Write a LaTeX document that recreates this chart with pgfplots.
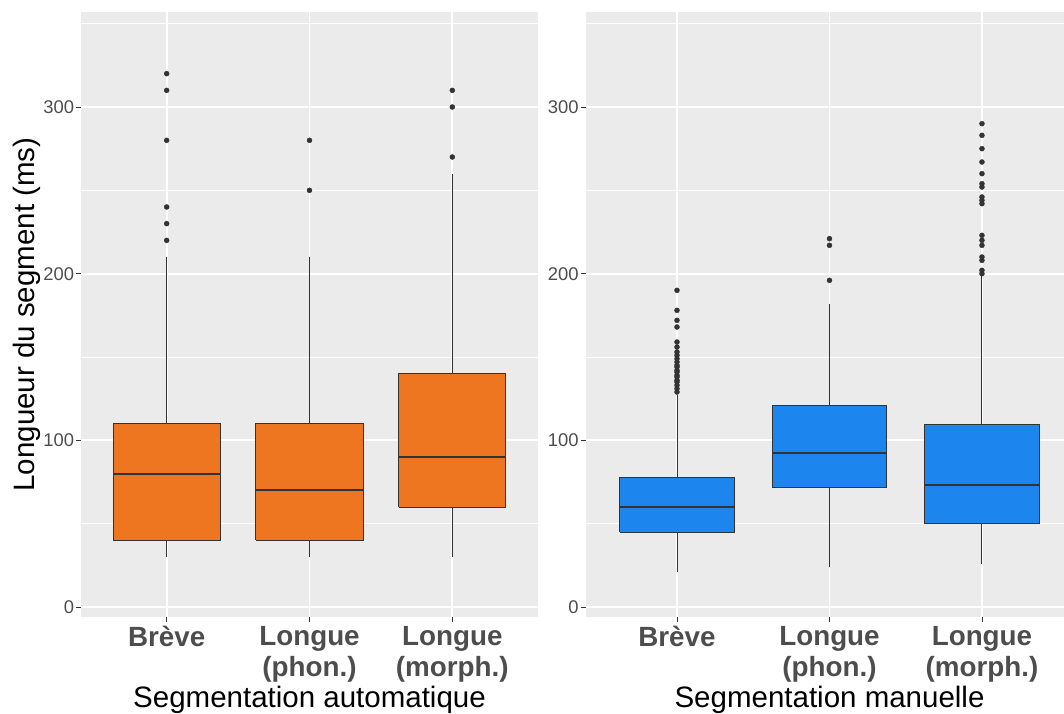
\documentclass[border=0pt]{standalone}
\usepackage{fontspec}
\setmainfont{Liberation Sans}
\usepackage{pgfplots}
\pgfplotsset{compat=1.18}

\definecolor{panelbg}{HTML}{EBEBEB}
\definecolor{ticktext}{HTML}{4D4D4D}
\definecolor{outline}{HTML}{333333}
\definecolor{autofill}{HTML}{EE7621}
\definecolor{manfill}{HTML}{1C86EE}

\pgfplotsset{
  panel/.style={
    scale only axis,
    height=302.5pt,
    xmin=0.4, ymin=-6, ymax=357,
    axis background/.style={fill=panelbg},
    axis line style={draw=none},
    xtick={1,2,3},
    xticklabels={Brève,{Longue\\(phon.)},{Longue\\(morph.)}},
    ytick={0,100,200,300},
    minor ytick={50,150,250,350},
    grid=both,
    major grid style={white, line width=0.9pt},
    minor grid style={white, line width=0.45pt},
    tick pos=left, tick align=outside,
    major tick length=2.5pt,
    tick style={outline, line width=0.45pt},
    minor tick style={draw=none},
    /pgf/number format/assume math mode=true,
    yticklabel style={font=\fontsize{9.2}{9.2}\selectfont, text=ticktext, inner sep=0.75pt},
    xticklabel style={font=\fontsize{13.9}{15.5}\selectfont\bfseries, text=ticktext,
      align=center, inner sep=0pt, yshift=-2pt},
    every axis x label/.style={at={(axis description cs:0.5,0)}, anchor=base,
      yshift=-45pt, font=\fontsize{14.75}{15}\selectfont},
    every axis y label/.style={at={(axis description cs:0,0.5)}, xshift=-23pt,
      rotate=90, anchor=base, font=\fontsize{14.75}{15}\selectfont},
  },
  whisk/.style={outline, line width=0.5pt},
  box/.style={fill=#1, draw=outline, line width=0.5pt, line join=miter},
  med/.style={outline, line width=1.1pt},
  outl/.style={only marks, mark=*, mark size=1.25pt,
    mark options={fill=outline, draw=outline, line width=0.2pt}},
}

\begin{document}
\begin{tikzpicture}
\useasboundingbox (0,0) rectangle (532pt,356.5pt);

% Automatic segmentation
\begin{axis}[panel, at={(40.5pt,48pt)}, anchor=south west,
  width=228.5pt, xmax=3.6,
  xlabel={Segmentation automatique},
  ylabel={Longueur du segment (ms)}]
% Brève: whiskers 30--210, box 40--110, median 80
\addplot[whisk] coordinates {(1,30) (1,40)};
\addplot[whisk] coordinates {(1,110) (1,210)};
\addplot[box=autofill] coordinates {(0.625,40) (1.375,40) (1.375,110) (0.625,110) (0.625,40)};
\addplot[med] coordinates {(0.625,80) (1.375,80)};
\addplot[outl] coordinates {(1,220) (1,230) (1,240) (1,280) (1,310) (1,320)};
% Longue (phon.): whiskers 30--210, box 40--110, median 70
\addplot[whisk] coordinates {(2,30) (2,40)};
\addplot[whisk] coordinates {(2,110) (2,210)};
\addplot[box=autofill] coordinates {(1.625,40) (2.375,40) (2.375,110) (1.625,110) (1.625,40)};
\addplot[med] coordinates {(1.625,70) (2.375,70)};
\addplot[outl] coordinates {(2,250) (2,280)};
% Longue (morph.): whiskers 30--260, box 60--140, median 90
\addplot[whisk] coordinates {(3,30) (3,60)};
\addplot[whisk] coordinates {(3,140) (3,260)};
\addplot[box=autofill] coordinates {(2.625,60) (3.375,60) (3.375,140) (2.625,140) (2.625,60)};
\addplot[med] coordinates {(2.625,90) (3.375,90)};
\addplot[outl] coordinates {(3,270) (3,300) (3,310)};
\end{axis}

% Manual segmentation
\begin{axis}[panel, at={(292.75pt,48pt)}, anchor=south west,
  width=239.25pt, xmax=3.538,
  xlabel={Segmentation manuelle},
  every axis x label/.append style={at={(axis description cs:0.51,0)}}]
% Brève: whiskers 21--127, box 45--78, median 60
\addplot[whisk] coordinates {(1,21) (1,45)};
\addplot[whisk] coordinates {(1,78) (1,127)};
\addplot[box=manfill] coordinates {(0.625,45) (1.375,45) (1.375,78) (0.625,78) (0.625,45)};
\addplot[med] coordinates {(0.625,60) (1.375,60)};
\addplot[outl] coordinates {(1,129) (1,131) (1,133) (1,135) (1,136) (1,138) (1,139)
  (1,141) (1,142) (1,144) (1,145) (1,147) (1,149) (1,151) (1,153) (1,156) (1,159)
  (1,168) (1,172) (1,178) (1,190)};
% Longue (phon.): whiskers 24--182, box 72--121, median 92.5
\addplot[whisk] coordinates {(2,24) (2,72)};
\addplot[whisk] coordinates {(2,121) (2,182)};
\addplot[box=manfill] coordinates {(1.625,72) (2.375,72) (2.375,121) (1.625,121) (1.625,72)};
\addplot[med] coordinates {(1.625,92.5) (2.375,92.5)};
\addplot[outl] coordinates {(2,196) (2,217) (2,221)};
% Longue (morph.): whiskers 26--199, box 50--109.5, median 73
\addplot[whisk] coordinates {(3,26) (3,50)};
\addplot[whisk] coordinates {(3,109.5) (3,199)};
\addplot[box=manfill] coordinates {(2.625,50) (3.375,50) (3.375,109.5) (2.625,109.5) (2.625,50)};
\addplot[med] coordinates {(2.625,73) (3.375,73)};
\addplot[outl] coordinates {(3,200) (3,202) (3,208) (3,210) (3,217) (3,220) (3,223)
  (3,242) (3,244) (3,246) (3,252) (3,254) (3,260) (3,267) (3,275) (3,283) (3,290)};
\end{axis}
\end{tikzpicture}
\end{document}
